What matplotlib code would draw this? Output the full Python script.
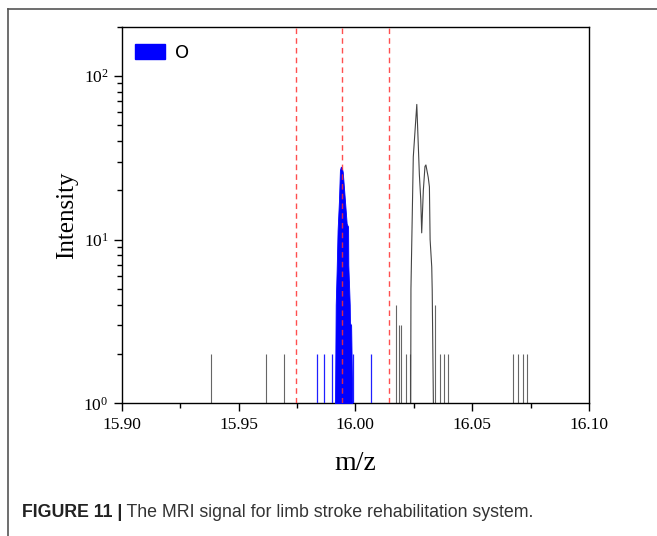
import numpy as np
import matplotlib
matplotlib.use("Agg")
import matplotlib.pyplot as plt
import matplotlib.ticker as ticker
from matplotlib.patches import Patch
from matplotlib.lines import Line2D

plt.rcParams.update({
    "font.family":       "serif",
    "font.serif":        ["Liberation Serif", "DejaVu Serif"],
    "mathtext.fontset":  "stix",
    "xtick.direction":   "out",
    "ytick.direction":   "out",
    "axes.linewidth":    1.0,
})

# O peak (blue, filled profile)
o_mz  = [15.9913, 15.9916, 15.9920, 15.9924, 15.9930, 15.9934, 15.9938, 15.9942,
         15.9946, 15.9950, 15.9956, 15.9963, 15.9969, 15.9970, 15.9976, 15.9977,
         15.9982, 15.9987]
o_int = [1.0, 4.0, 6.5, 11.4, 17.5, 26.6, 27.9, 27.5,
         26.0, 22.0, 17.0, 12.5, 12.0, 7.0, 4.0, 3.1,
         3.0, 1.0]

# isolated blue spikes
o_spk_mz  = [15.9837, 15.9865, 15.9899, 15.9991, 16.0067]
o_spk_int = [2, 2, 2, 2, 2]

# gray main peak profile
g_mz  = [16.0237, 16.0238, 16.0248, 16.0263, 16.0274, 16.0280, 16.0284, 16.0291,
         16.0298, 16.0302, 16.0312, 16.0317, 16.0320, 16.0327, 16.0329, 16.0334]
g_int = [1.0, 5.0, 32.0, 67.0, 25.0, 17.5, 11.0, 20.0,
         28.0, 28.6, 24.0, 21.0, 10.0, 6.8, 4.9, 1.0]

# gray spikes
g_spk_mz  = [15.9384, 15.9618, 15.9696, 16.0174, 16.0187, 16.0194, 16.0215,
             16.0234, 16.0340, 16.0364, 16.0378, 16.0395,
             16.0676, 16.0697, 16.0716, 16.0733]
g_spk_int = [2, 2, 2, 4, 3, 3, 2,
             2, 4, 2, 2, 2,
             2, 2, 2, 2]

ref_lines = [15.9745, 15.9945, 16.0145]

fig = plt.figure(figsize=(6.57, 5.36), dpi=100)
ax = fig.add_axes([0.1852, 0.2476, 0.7113, 0.7026])

ax.vlines(g_spk_mz, 1, g_spk_int, color="#666666", lw=0.8, zorder=2)
ax.plot(g_mz, g_int, color="#444444", lw=0.8, zorder=2)

ax.vlines(o_spk_mz, 1, o_spk_int, color="#2020ff", lw=0.9, zorder=3)
ax.fill_between(o_mz, 1, o_int, color="#0000ff", lw=0.6, edgecolor="#0000ff", zorder=3)

for xv in ref_lines:
    ax.axvline(xv, color="#ff3030", lw=1.0, ls=(0, (4, 3)), alpha=0.85, zorder=4)

ax.set_yscale("log")
ax.set_xlim(15.90, 16.10)
ax.set_ylim(1, 200)
ax.xaxis.set_major_locator(ticker.MultipleLocator(0.05))
ax.xaxis.set_minor_locator(ticker.MultipleLocator(0.025))
ax.xaxis.set_major_formatter(ticker.FormatStrFormatter("%.2f"))
ax.tick_params(which="major", length=6, width=1.0, labelsize=12.5)
ax.tick_params(which="minor", length=3.5, width=1.0)
ax.tick_params(axis="x", pad=4)

ax.set_xlabel("m/z", fontsize=20, labelpad=13)
ax.set_ylabel("Intensity", fontsize=18, labelpad=4)

ax.legend(handles=[Patch(facecolor="#0000ff", edgecolor="#0000ff")], labels=["O"],
          loc="upper left", bbox_to_anchor=(0.028, 0.955), frameon=False,
          borderaxespad=0, borderpad=0, handlelength=1.65, handleheight=0.95,
          handletextpad=0.6, prop={"family": "DejaVu Sans", "size": 13})

# outer frame (top and left edges)
fig.add_artist(Line2D([8 / 657, 1.0], [1 - 8.5 / 536] * 2, color="#555555", lw=1.2,
                      transform=fig.transFigure))
fig.add_artist(Line2D([8 / 657] * 2, [0.0, 1 - 8.5 / 536], color="#555555", lw=1.2,
                      transform=fig.transFigure))

cap1 = fig.text(22 / 657, 0.043, "FIGURE 11 |", fontsize=12.8, fontweight="bold",
                family="Liberation Sans", color="#222222", va="center")
ax.annotate(" The MRI signal for limb stroke rehabilitation system.",
            xy=(1, 0.5), xycoords=cap1, va="center", ha="left",
            fontsize=12.8, family="Liberation Sans", color="#333333",
            annotation_clip=False)

fig.savefig("out.png", dpi=100, facecolor="white")
